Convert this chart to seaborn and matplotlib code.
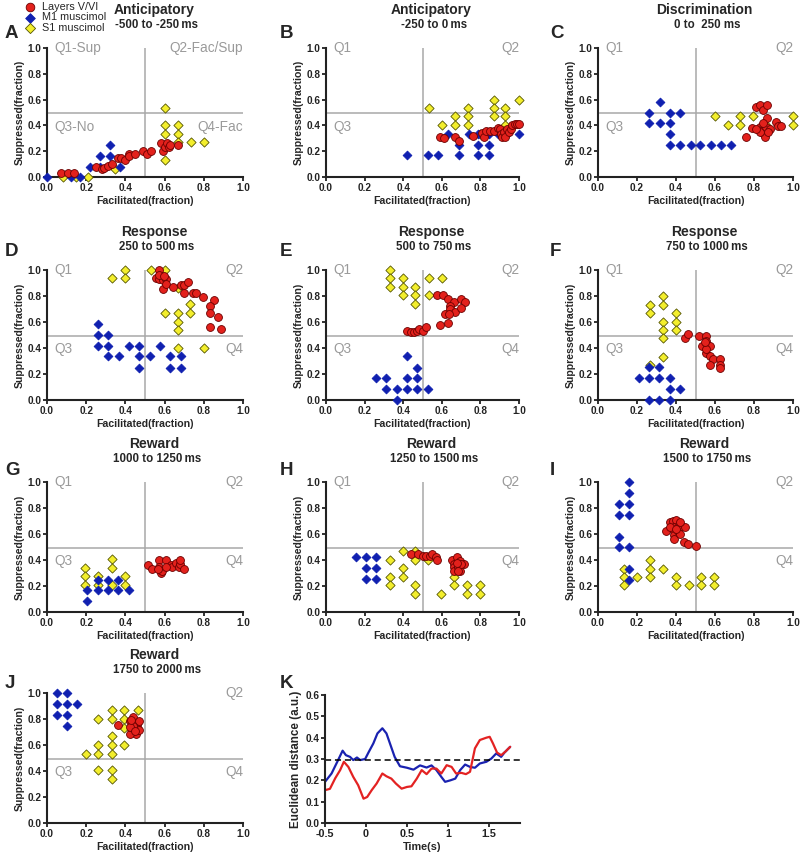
import numpy as np
import pandas as pd
import seaborn as sns
import matplotlib.pyplot as plt

sns.set_style("ticks")
plt.rcParams['font.family'] = ['Liberation Sans', 'DejaVu Sans']
plt.rcParams['axes.unicode_minus'] = False

# ---- scatter data: (facilitated, suppressed) fractions ----
A_layers = [(0.07, 0.03), (0.105, 0.03), (0.14, 0.03), (0.25, 0.08), (0.28, 0.065), (0.29, 0.07),
            (0.31, 0.085), (0.33, 0.10), (0.36, 0.15), (0.38, 0.15), (0.40, 0.13), (0.42, 0.18),
            (0.42, 0.16), (0.45, 0.18), (0.49, 0.20), (0.51, 0.18), (0.53, 0.20), (0.58, 0.26),
            (0.59, 0.20), (0.60, 0.23), (0.61, 0.26), (0.62, 0.23), (0.63, 0.25), (0.67, 0.25)]
A_m1 = [(0.0, 0.0), (0.12, 0.0), (0.17, 0.0), (0.22, 0.08), (0.27, 0.165), (0.27, 0.08),
        (0.32, 0.25), (0.32, 0.165), (0.375, 0.08)]
A_s1 = [(0.08, 0.0), (0.15, 0.0), (0.21, 0.0), (0.345, 0.065), (0.6, 0.535), (0.6, 0.40),
        (0.6, 0.33), (0.6, 0.135), (0.67, 0.40), (0.67, 0.33), (0.67, 0.27), (0.735, 0.27), (0.80, 0.27)]

B_layers = [(0.59, 0.31), (0.61, 0.30), (0.67, 0.31), (0.69, 0.28), (0.76, 0.315), (0.81, 0.34),
            (0.82, 0.31), (0.83, 0.36), (0.85, 0.36), (0.87, 0.36), (0.89, 0.38), (0.90, 0.375),
            (0.905, 0.335), (0.91, 0.31), (0.92, 0.35), (0.93, 0.31), (0.94, 0.375), (0.95, 0.35),
            (0.957, 0.375), (0.965, 0.40), (0.98, 0.41), (0.99, 0.41), (1.0, 0.41)]
B_m1 = [(0.42, 0.17), (0.53, 0.17), (0.58, 0.17), (0.63, 0.335), (0.69, 0.25), (0.69, 0.17),
        (0.74, 0.335), (0.79, 0.25), (0.79, 0.17), (0.79, 0.335), (0.845, 0.335), (0.845, 0.25),
        (0.845, 0.17), (0.89, 0.335), (0.94, 0.335), (1.0, 0.335)]
B_s1 = [(0.535, 0.535), (0.60, 0.40), (0.67, 0.47), (0.67, 0.40), (0.735, 0.535), (0.735, 0.47),
        (0.735, 0.40), (0.80, 0.335), (0.87, 0.60), (0.87, 0.535), (0.87, 0.47), (0.93, 0.535),
        (0.93, 0.47), (0.93, 0.40), (1.0, 0.60)]

C_layers = [(0.757, 0.31), (0.79, 0.38), (0.81, 0.54), (0.83, 0.56), (0.846, 0.52), (0.867, 0.56),
            (0.867, 0.46), (0.83, 0.39), (0.838, 0.36), (0.846, 0.34), (0.855, 0.31), (0.83, 0.35),
            (0.863, 0.39), (0.884, 0.375), (0.846, 0.415), (0.81, 0.37), (0.914, 0.43),
            (0.923, 0.395), (0.94, 0.395), (0.87, 0.35)]
C_m1 = [(0.26, 0.50), (0.26, 0.415), (0.316, 0.585), (0.316, 0.415), (0.37, 0.50), (0.37, 0.415),
        (0.37, 0.33), (0.37, 0.25), (0.42, 0.50), (0.42, 0.25), (0.475, 0.25), (0.525, 0.25),
        (0.58, 0.25), (0.63, 0.25), (0.68, 0.25)]
C_s1 = [(0.60, 0.47), (0.667, 0.40), (0.73, 0.47), (0.73, 0.40), (0.795, 0.47), (0.863, 0.40),
        (0.928, 0.40), (1.0, 0.47), (1.0, 0.40)]

D_layers = [(0.573, 1.0), (0.556, 0.935), (0.573, 0.93), (0.59, 0.92), (0.607, 0.93), (0.59, 0.855),
            (0.607, 0.89), (0.57, 0.96), (0.645, 0.87), (0.684, 0.887), (0.70, 0.887), (0.72, 0.905),
            (0.70, 0.82), (0.743, 0.82), (0.76, 0.82), (0.795, 0.79), (0.85, 0.77), (0.83, 0.725),
            (0.83, 0.67), (0.87, 0.64), (0.83, 0.56), (0.89, 0.545), (0.598, 0.955)]
D_m1 = [(0.26, 0.585), (0.26, 0.50), (0.26, 0.415), (0.313, 0.50), (0.313, 0.415), (0.313, 0.335),
        (0.367, 0.335), (0.42, 0.415), (0.47, 0.415), (0.47, 0.335), (0.47, 0.25), (0.525, 0.335),
        (0.578, 0.415), (0.63, 0.335), (0.63, 0.25), (0.684, 0.335), (0.684, 0.25)]
D_s1 = [(0.333, 0.935), (0.40, 1.0), (0.40, 0.935), (0.533, 1.0), (0.60, 1.0), (0.60, 0.67),
        (0.667, 0.865), (0.667, 0.67), (0.667, 0.60), (0.667, 0.535), (0.667, 0.40), (0.73, 0.735),
        (0.73, 0.67), (0.80, 0.40)]

E_layers = [(0.42, 0.53), (0.44, 0.525), (0.456, 0.525), (0.47, 0.53), (0.484, 0.55), (0.50, 0.53),
            (0.518, 0.563), (0.573, 0.81), (0.607, 0.806), (0.63, 0.775), (0.663, 0.755),
            (0.645, 0.723), (0.645, 0.703), (0.67, 0.677), (0.618, 0.66), (0.635, 0.66),
            (0.59, 0.574), (0.63, 0.594), (0.70, 0.775), (0.72, 0.757), (0.70, 0.705)]
E_m1 = [(0.26, 0.17), (0.31, 0.17), (0.31, 0.085), (0.367, 0.085), (0.367, 0.0), (0.42, 0.335),
        (0.42, 0.17), (0.42, 0.085), (0.47, 0.25), (0.47, 0.17), (0.47, 0.085), (0.527, 0.085)]
E_s1 = [(0.33, 1.0), (0.33, 0.935), (0.33, 0.87), (0.40, 0.935), (0.40, 0.87), (0.40, 0.805),
        (0.463, 0.87), (0.463, 0.805), (0.463, 0.735), (0.535, 0.935), (0.535, 0.805), (0.60, 0.935)]

F_layers = [(0.444, 0.474), (0.46, 0.508), (0.518, 0.495), (0.556, 0.495), (0.556, 0.456),
            (0.553, 0.417), (0.535, 0.417), (0.573, 0.417), (0.556, 0.365), (0.573, 0.34),
            (0.59, 0.313), (0.628, 0.313), (0.628, 0.267), (0.628, 0.249), (0.573, 0.267),
            (0.556, 0.39), (0.547, 0.443)]
F_m1 = [(0.208, 0.168), (0.263, 0.254), (0.263, 0.168), (0.263, 0.0), (0.315, 0.254), (0.315, 0.168),
        (0.315, 0.0), (0.367, 0.168), (0.367, 0.085), (0.367, 0.0), (0.418, 0.085)]
F_s1 = [(0.267, 0.733), (0.267, 0.67), (0.332, 0.80), (0.332, 0.733), (0.332, 0.60), (0.332, 0.54),
        (0.332, 0.474), (0.332, 0.334), (0.40, 0.67), (0.40, 0.60), (0.40, 0.54), (0.267, 0.27)]

G_layers = [(0.515, 0.365), (0.536, 0.327), (0.57, 0.40), (0.57, 0.347), (0.58, 0.30), (0.588, 0.316),
            (0.567, 0.327), (0.608, 0.40), (0.631, 0.36), (0.639, 0.347), (0.656, 0.378),
            (0.673, 0.347), (0.68, 0.373), (0.68, 0.40), (0.70, 0.334), (0.605, 0.347)]
G_m1 = [(0.206, 0.085), (0.206, 0.172), (0.258, 0.172), (0.258, 0.25), (0.31, 0.25), (0.31, 0.172),
        (0.364, 0.172), (0.364, 0.25), (0.416, 0.172)]
G_s1 = [(0.196, 0.34), (0.196, 0.275), (0.196, 0.206), (0.261, 0.275), (0.261, 0.206), (0.33, 0.404),
        (0.33, 0.34), (0.33, 0.206), (0.40, 0.275), (0.40, 0.206)]

H_layers = [(0.44, 0.446), (0.478, 0.45), (0.50, 0.433), (0.52, 0.433), (0.54, 0.433), (0.55, 0.446),
            (0.568, 0.42), (0.573, 0.40), (0.655, 0.40), (0.677, 0.42), (0.694, 0.394), (0.717, 0.37),
            (0.664, 0.37), (0.664, 0.343), (0.664, 0.317), (0.685, 0.343), (0.694, 0.317),
            (0.70, 0.37), (0.677, 0.38), (0.685, 0.317)]
H_m1 = [(0.155, 0.42), (0.208, 0.42), (0.208, 0.335), (0.208, 0.253), (0.26, 0.42), (0.26, 0.335),
        (0.26, 0.253)]
H_s1 = [(0.332, 0.40), (0.332, 0.27), (0.332, 0.206), (0.40, 0.47), (0.40, 0.335), (0.40, 0.27),
        (0.463, 0.47), (0.463, 0.40), (0.463, 0.206), (0.463, 0.137), (0.53, 0.40), (0.595, 0.137),
        (0.664, 0.27), (0.664, 0.206), (0.73, 0.206), (0.73, 0.137), (0.797, 0.206), (0.797, 0.137)]

I_layers = [(0.35, 0.625), (0.37, 0.69), (0.385, 0.70), (0.40, 0.708), (0.388, 0.656), (0.388, 0.625),
            (0.388, 0.594), (0.388, 0.56), (0.41, 0.656), (0.41, 0.625), (0.42, 0.60), (0.427, 0.664),
            (0.444, 0.656), (0.422, 0.69), (0.44, 0.54), (0.46, 0.52), (0.50, 0.506), (0.368, 0.656),
            (0.40, 0.638)]
I_m1 = [(0.106, 0.832), (0.106, 0.747), (0.106, 0.58), (0.106, 0.50), (0.157, 1.0), (0.157, 0.917),
        (0.157, 0.832), (0.157, 0.747), (0.157, 0.50), (0.157, 0.333), (0.157, 0.25)]
I_s1 = [(0.133, 0.333), (0.133, 0.27), (0.133, 0.204), (0.20, 0.27), (0.265, 0.40), (0.265, 0.333),
        (0.265, 0.27), (0.333, 0.333), (0.40, 0.27), (0.40, 0.204), (0.465, 0.204), (0.53, 0.27),
        (0.53, 0.204), (0.595, 0.27), (0.595, 0.204)]

J_layers = [(0.364, 0.751), (0.424, 0.782), (0.44, 0.815), (0.433, 0.718), (0.455, 0.687),
            (0.424, 0.687), (0.458, 0.751), (0.458, 0.723), (0.44, 0.77), (0.467, 0.782),
            (0.467, 0.718), (0.44, 0.746), (0.424, 0.738), (0.45, 0.705), (0.43, 0.795)]
J_m1 = [(0.05, 1.0), (0.10, 1.0), (0.05, 0.918), (0.10, 0.918), (0.153, 0.918), (0.05, 0.833),
        (0.10, 0.833), (0.10, 0.749)]
J_s1 = [(0.198, 0.533), (0.261, 0.80), (0.261, 0.60), (0.261, 0.533), (0.261, 0.405), (0.33, 0.867),
        (0.33, 0.80), (0.33, 0.667), (0.33, 0.60), (0.33, 0.533), (0.33, 0.405), (0.33, 0.338),
        (0.395, 0.867), (0.395, 0.80), (0.395, 0.73), (0.395, 0.60), (0.464, 0.867)]

panel_names = ['A', 'B', 'C', 'D', 'E', 'F', 'G', 'H', 'I', 'J']
layers = [A_layers, B_layers, C_layers, D_layers, E_layers, F_layers, G_layers, H_layers, I_layers, J_layers]
m1 = [A_m1, B_m1, C_m1, D_m1, E_m1, F_m1, G_m1, H_m1, I_m1, J_m1]
s1 = [A_s1, B_s1, C_s1, D_s1, E_s1, F_s1, G_s1, H_s1, I_s1, J_s1]
epochs = ['Anticipatory', 'Anticipatory', 'Discrimination', 'Response', 'Response', 'Response',
          'Reward', 'Reward', 'Reward', 'Reward']
windows = ['-500 to -250\u2009ms', '-250 to 0\u2009ms', '0 to  250 ms', '250 to 500\u2009ms',
           '500 to 750\u2009ms', '750 to 1000\u2009ms', '1000 to 1250\u2009ms', '1250 to 1500\u2009ms',
           '1500 to 1750\u2009ms', '1750 to 2000\u2009ms']
quads = [['Q1-Sup', 'Q2-Fac/Sup', 'Q3-No', 'Q4-Fac'], ['Q1', 'Q2', 'Q3', ''], ['Q1', 'Q2', 'Q3', ''],
         ['Q1', 'Q2', 'Q3', 'Q4'], ['Q1', 'Q2', 'Q3', 'Q4'], ['Q1', 'Q2', 'Q3', 'Q4'],
         ['Q1', 'Q2', 'Q3', 'Q4'], ['Q1', 'Q2', '', 'Q4'], ['', 'Q2', '', 'Q4'], ['', 'Q2', 'Q3', 'Q4']]

# ---- K: euclidean distance over time ----
k_time_blue = [-0.5, -0.42, -0.35, -0.285, -0.245, -0.195, -0.155, -0.11, -0.07, -0.01, 0.03, 0.09,
               0.14, 0.20, 0.25, 0.30, 0.35, 0.415, 0.50, 0.58, 0.66, 0.74, 0.80, 0.86, 0.92, 0.966,
               1.03, 1.09, 1.15, 1.21, 1.27, 1.33, 1.39, 1.47, 1.53, 1.59, 1.65, 1.69, 1.76]
k_dist_blue = [0.193, 0.232, 0.287, 0.339, 0.318, 0.31, 0.295, 0.307, 0.295, 0.30, 0.33, 0.373,
               0.42, 0.444, 0.42, 0.365, 0.31, 0.266, 0.259, 0.25, 0.27, 0.26, 0.27, 0.248, 0.216,
               0.193, 0.20, 0.208, 0.248, 0.274, 0.263, 0.259, 0.279, 0.287, 0.302, 0.326, 0.31,
               0.33, 0.357]
k_time_red = [-0.5, -0.44, -0.375, -0.315, -0.27, -0.215, -0.155, -0.095, -0.03, 0.015, 0.07, 0.13,
              0.20, 0.25, 0.31, 0.365, 0.435, 0.50, 0.555, 0.62, 0.68, 0.74, 0.80, 0.86, 0.92, 0.985,
              1.045, 1.10, 1.165, 1.22, 1.27, 1.33, 1.39, 1.47, 1.51, 1.55, 1.60, 1.65, 1.70, 1.76]
k_dist_red = [0.154, 0.16, 0.21, 0.248, 0.287, 0.263, 0.216, 0.177, 0.114, 0.122, 0.154, 0.185,
              0.232, 0.219, 0.208, 0.185, 0.161, 0.169, 0.172, 0.208, 0.248, 0.229, 0.255, 0.255,
              0.232, 0.271, 0.263, 0.232, 0.235, 0.229, 0.24, 0.35, 0.389, 0.40, 0.404, 0.373,
              0.33, 0.318, 0.334, 0.357]
k_threshold = 0.295

RED = '#e3211c'
BLUE = '#1020b0'
YELLOW = '#f3ee2c'
W, H = 800, 857

fig = plt.figure(figsize=(8, 8.57), dpi=100)


def rect(l, t, r, b):
    return [l / W, 1 - b / H, (r - l) / W, (b - t) / H]


cols = [(47, 243), (326, 519), (598, 793)]
rows = [(48, 177), (270, 400), (482, 612), (693, 823)]
letter_x = [5, 280, 550]
letter_y = [33, 252, 470, 683]


def style_axes(ax):
    sns.despine(ax=ax)
    for s in ['left', 'bottom']:
        ax.spines[s].set_linewidth(1.5)
        ax.spines[s].set_color('#222222')
    ax.tick_params(direction='out', length=3, width=1.3, pad=1.2, labelsize=7.2, colors='#222222')
    for lab in ax.get_xticklabels() + ax.get_yticklabels():
        lab.set_fontweight('bold')


for i, name in enumerate(panel_names):
    r, c = divmod(i, 3)
    ax = fig.add_axes(rect(cols[c][0], rows[r][0], cols[c][1], rows[r][1]))
    ax.axvline(0.5, color='#a8a8a8', lw=1.1, zorder=0)
    ax.axhline(0.495, color='#a8a8a8', lw=1.1, zorder=0)
    groups = [('S1 muscimol', s1[i], 'D', YELLOW, '#555500', 22),
              ('M1 muscimol', m1[i], 'D', BLUE, BLUE, 20),
              ('Layers V/VI', layers[i], 'o', RED, '#6a0000', 32)]
    for label, pts, mk, col, ec, sz in groups:
        d = pd.DataFrame(pts, columns=['fac', 'sup'])
        sns.scatterplot(data=d, x='fac', y='sup', ax=ax, marker=mk, color=col, edgecolor=ec,
                        linewidth=0.6, s=sz, clip_on=False, zorder=3, label=label)
    ax.set_xlim(0, 1)
    ax.set_ylim(0, 1)
    ax.set_xticks(np.arange(0, 1.01, 0.2))
    ax.set_yticks(np.arange(0, 1.01, 0.2))
    ax.set_xticklabels(['%.1f' % v for v in np.arange(0, 1.01, 0.2)])
    ax.set_yticklabels(['%.1f' % v for v in np.arange(0, 1.01, 0.2)])
    ax.set_xlabel('Facilitated(fraction)', fontsize=7.6, fontweight='bold', labelpad=2)
    ax.set_ylabel('Suppressed(fraction)', fontsize=7.6, fontweight='bold', labelpad=2)
    style_axes(ax)
    q = quads[i]
    qkw = dict(color='#9a9a9a', fontsize=9.8, va='center', transform=ax.transData)
    ax.text(0.04, 1.0, q[0], ha='left', **qkw)
    ax.text(1.0, 1.0, q[1], ha='right', **qkw)
    ax.text(0.04, 0.39, q[2], ha='left', **qkw)
    ax.text(1.0, 0.39, q[3], ha='right', **qkw)
    ax.annotate(epochs[i], xy=(0.545, 1), xycoords='axes fraction', xytext=(0, 27.5),
                textcoords='offset points', ha='center', va='center', fontsize=10, fontweight='bold')
    ax.annotate(windows[i], xy=(0.56, 1), xycoords='axes fraction', xytext=(0, 16.5),
                textcoords='offset points', ha='center', va='center', fontsize=8.3, fontweight='bold')
    fig.text(letter_x[c] / W, 1 - letter_y[r] / H, name, fontsize=13.5, fontweight='bold',
             ha='left', va='center')
    if name == 'A':
        h, l = ax.get_legend_handles_labels()
        order = [2, 1, 0]
        ax.legend([h[k] for k in order], [l[k] for k in order], loc='upper left',
                  bbox_to_anchor=(24.5 / W, 1 - 1.5 / H), bbox_transform=fig.transFigure,
                  frameon=False, fontsize=7.8, handletextpad=0.6, labelspacing=0.08, borderpad=0,
                  borderaxespad=0, handlelength=1.0, markerscale=1.1)
    else:
        ax.get_legend().remove()

# panel K
axk = fig.add_axes(rect(cols[1][0] - 1, rows[3][0] + 2, 520, rows[3][1]))
kb = pd.DataFrame({'t': k_time_blue, 'd': k_dist_blue})
kr = pd.DataFrame({'t': k_time_red, 'd': k_dist_red})
sns.lineplot(data=kb, x='t', y='d', ax=axk, color='#1a22b0', lw=1.6)
sns.lineplot(data=kr, x='t', y='d', ax=axk, color='#e32222', lw=1.6)
axk.axhline(k_threshold, xmin=0.0, xmax=1.0, color='black', lw=1.1, ls=(0, (4, 2.5)))
axk.set_xlim(-0.5, 1.88)
axk.set_ylim(0, 0.6)
axk.set_xticks([-0.5, 0, 0.5, 1, 1.5])
axk.set_xticklabels(['-0.5', '0', '0.5', '1', '1.5'])
axk.set_yticks(np.arange(0, 0.61, 0.1))
axk.set_yticklabels(['%.1f' % v for v in np.arange(0, 0.61, 0.1)])
axk.set_xlabel('Time(s)', fontsize=7.8, fontweight='bold', labelpad=2)
axk.set_ylabel('Euclidean distance (a.u.)', fontsize=8.4, fontweight='bold', labelpad=2)
style_axes(axk)
axk.tick_params(axis='x', labelsize=7.8)
fig.text(letter_x[1] / W, 1 - letter_y[3] / H, 'K', fontsize=13.5, fontweight='bold',
         ha='left', va='center')

fig.savefig('out.png', dpi=100)
